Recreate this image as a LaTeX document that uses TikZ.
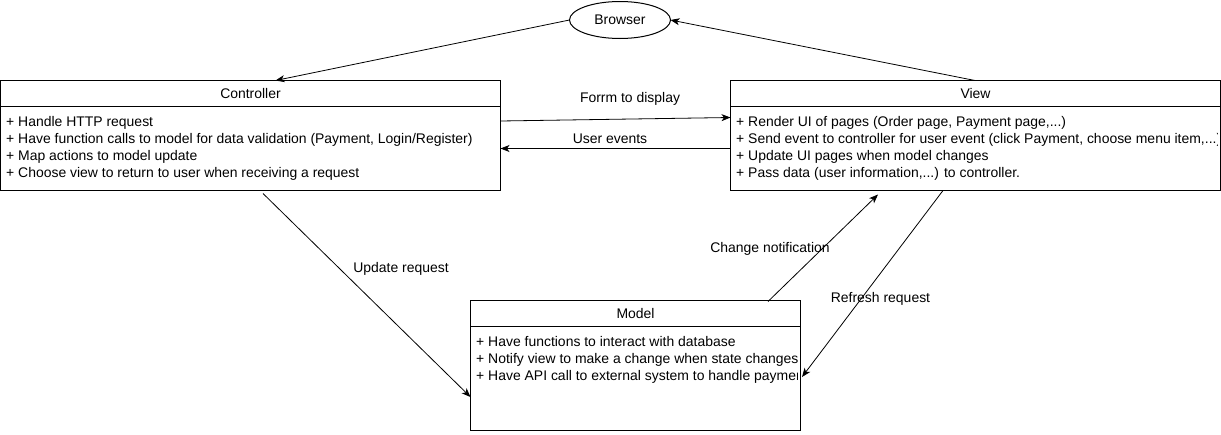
\documentclass[tikz,border=0pt]{standalone}
\usepackage{fontspec}
\setmainfont{Liberation Sans}
\usetikzlibrary{arrows.meta,calc,shapes.geometric}
\begin{document}
\begin{tikzpicture}[x=1pt,y=-1pt,font=\fontsize{13.95}{17.2}\selectfont,
  box/.style={draw,line width=1pt,rectangle,inner sep=0pt,outer sep=0pt,anchor=north west},
  hdr/.style={line width=1pt},
  arr/.style={line width=0.8pt,-{Stealth[length=9pt,width=7pt,inset=2.5pt]}},
  lbl/.style={inner sep=0pt},
  body/.style={anchor=north west,align=left,inner sep=0pt}]
\useasboundingbox (0,0) rectangle (1221,434);
% Browser
\node[draw,ellipse,line width=1pt,minimum width=101pt,minimum height=37pt,inner sep=0pt,outer sep=0pt] (browser) at (620,20) {Browser};
% Controller
\node[box,minimum width=500pt,minimum height=110pt] (ctrl) at (0.5,80.5) {};
\draw[hdr] ($(ctrl.north west)+(0,26)$) -- ($(ctrl.north east)+(0,26)$);
\node (ctrlt) at ($(ctrl.north)+(0,13.5)$) {Controller};
\begin{scope}
\clip (ctrl.north west) rectangle ($(ctrl.south east)+(-3,0)$);
\node[body] (ctrlb) at ($(ctrl.north west)+(5.5,35.2)$) {+ Handle HTTP request\\+ Have function calls to model for data validation (Payment, Login/Register)\\+ Map actions to model update\\+ Choose view to return to user when receiving a request};
\end{scope}
% View
\node[box,minimum width=490pt,minimum height=110pt] (view) at (730.5,80.5) {};
\draw[hdr] ($(view.north west)+(0,26)$) -- ($(view.north east)+(0,26)$);
\node (viewt) at ($(view.north)+(0,13.5)$) {View};
\begin{scope}
\clip (view.north west) rectangle ($(view.south east)+(-3,0)$);
\node[body] (viewb) at ($(view.north west)+(5.5,35.2)$) {+ Render UI of pages (Order page, Payment page,...)\\+ Send event to controller for user event (click Payment, choose menu item,...)\\+ Update UI pages when model changes\\+ Pass data (user information,...) to controller.};
\end{scope}
% Model
\node[box,minimum width=330pt,minimum height=130pt] (model) at (470.5,300.5) {};
\draw[hdr] ($(model.north west)+(0,25.5)$) -- ($(model.north east)+(0,25.5)$);
\node (modelt) at ($(model.north)+(0,13)$) {Model};
\begin{scope}
\clip (model.north west) rectangle ($(model.south east)+(-3,0)$);
\node[body] (modelb) at ($(model.north west)+(5.5,35.2)$) {+ Have functions to interact with database\\+ Notify view to make a change when state changes\\+ Have API call to external system to handle payment};
\end{scope}
% Connectors
\draw[arr] (browser.west) -- ($(ctrl.north west)+(275,0)$);
\draw[arr] ($(view.north west)+(244.5,0)$) -- (browser.east);
\draw[arr] ($(ctrl.north east)+(0,40.5)$) -- ($(view.north west)+(0,37)$);
\draw[arr] ($(view.north west)+(0,68)$) -- ($(ctrl.north east)+(0,68)$);
\draw[arr] ($(ctrl.south west)+(262.5,3)$) -- ($(model.north west)+(0,96.5)$);
\draw[arr] ($(model.north west)+(297.5,1)$) -- ($(view.south west)+(147.5,4)$);
\draw[arr] ($(view.south west)+(212.5,0)$) -- ($(model.north east)+(1.5,76.5)$);
% Labels
\node[lbl] (l1) at (630,99) {Forrm to display};
\node[lbl] (l2) at (610,139) {User events};
\node[lbl] (l3) at (401,269) {Update request};
\node[lbl] (l4) at (770,249) {Change notification};
\node[lbl] (l5) at (880.5,299) {Refresh request};
\end{tikzpicture}
\end{document}
